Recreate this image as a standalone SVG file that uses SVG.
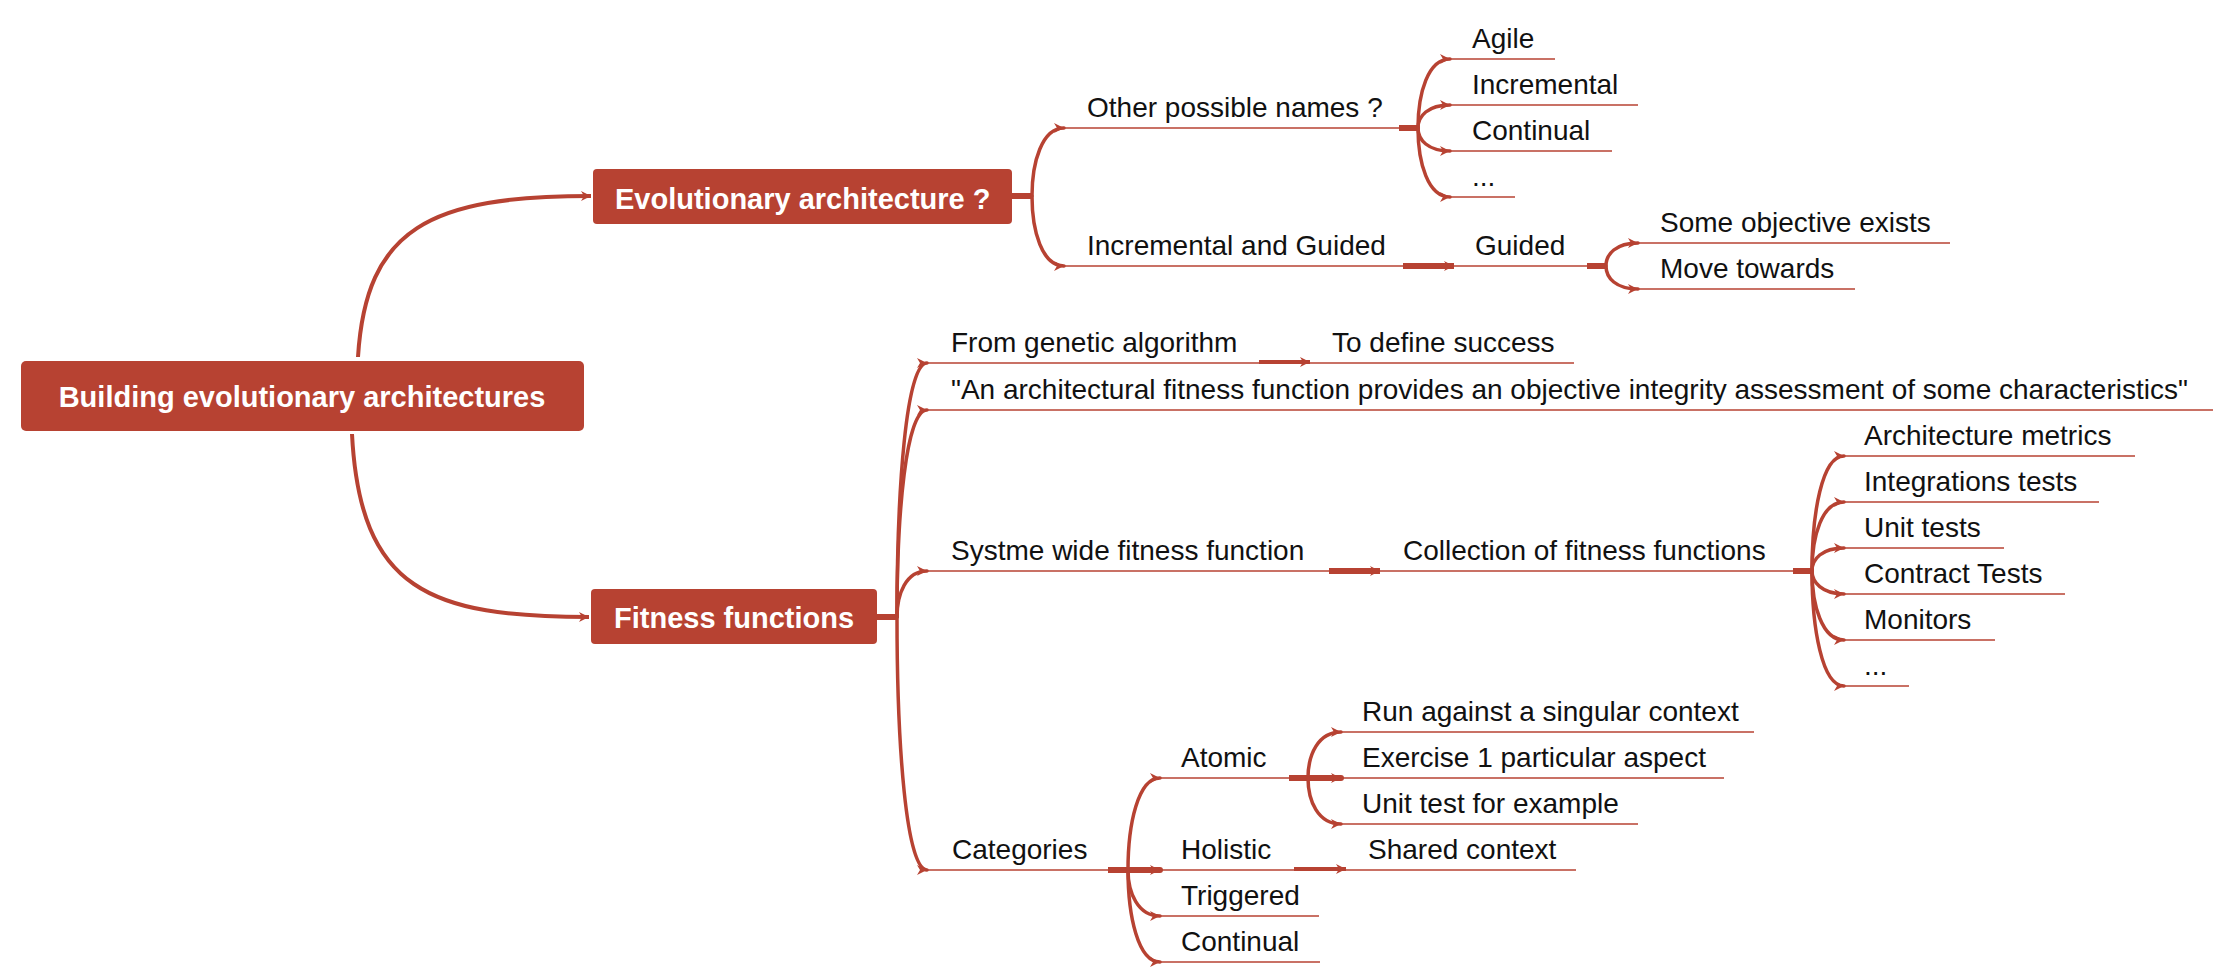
<svg xmlns="http://www.w3.org/2000/svg" width="2229" height="978" viewBox="0 0 2229 978">
<defs>
<style>
.t{font-family:"Liberation Sans",Arial,sans-serif;font-size:28px;fill:#111}
.b{font-family:"Liberation Sans",Arial,sans-serif;font-size:29px;font-weight:bold;fill:#fff}
.box{fill:#B74232}
.ul{stroke:#B74232;stroke-width:1.6;fill:none}
.c{stroke:#B74232;stroke-width:3.5;fill:none;marker-end:url(#ah);stroke-linecap:round}
.cm{stroke:#B74232;stroke-width:4;fill:none;marker-end:url(#ah)}
.s{stroke:#B74232;stroke-width:6;fill:none}
</style>
<marker id="ah" markerUnits="userSpaceOnUse" markerWidth="12" markerHeight="12" refX="10" refY="6" orient="auto" viewBox="0 0 12 12">
<path d="M0,1 L10,6 L0,11 L3,6 z" fill="#B74232"/>
</marker>
</defs>
<rect width="2229" height="978" fill="#fff"/>

<g id="connectors">
<path class="cm" d="M358,357 C366,228 430,196 591,196"/>
<path class="cm" d="M352,434 C360,590 430,617 589,617"/>
<line class="s" x1="1012" y1="196" x2="1032" y2="196"/>
<path class="c" d="M1032,196 C1032,162 1042,128 1064,128"/>
<path class="c" d="M1032,196 C1032,231 1042,266 1064,266"/>
<line class="s" x1="1399" y1="128" x2="1418" y2="128"/>
<path class="c" d="M1418,128 C1418,93 1428,59 1450,59"/>
<path class="c" d="M1418,128 C1418,116 1428,105 1450,105"/>
<path class="c" d="M1418,128 C1418,140 1428,151 1450,151"/>
<path class="c" d="M1418,128 C1418,163 1428,197 1450,197"/>
<path class="cm" style="stroke-width:6" d="M1403,266 L1454,266"/>
<line class="s" x1="1587" y1="266" x2="1606" y2="266"/>
<path class="c" d="M1606,266 C1606,254 1616,243 1638,243"/>
<path class="c" d="M1606,266 C1606,278 1616,289 1638,289"/>
<line class="s" x1="877" y1="617" x2="897" y2="617"/>
<path class="c" d="M897,617 C897,490 906,363 927,363"/>
<path class="c" d="M897,617 C897,513 906,410 927,410"/>
<path class="c" d="M897,617 C897,594 906,571 927,571"/>
<path class="c" d="M897,617 C897,744 906,870 927,870"/>
<path class="cm" d="M1259,362 L1310,362"/>
<path class="cm" style="stroke-width:6" d="M1329,571 L1380,571"/>
<line class="s" x1="1793" y1="571" x2="1812" y2="571"/>
<path class="c" d="M1812,571 C1812,513 1822,456 1844,456"/>
<path class="c" d="M1812,571 C1812,536 1822,502 1844,502"/>
<path class="c" d="M1812,571 C1812,559 1822,548 1844,548"/>
<path class="c" d="M1812,571 C1812,582 1822,594 1844,594"/>
<path class="c" d="M1812,571 C1812,605 1822,640 1844,640"/>
<path class="c" d="M1812,571 C1812,628 1822,686 1844,686"/>
<line class="s" x1="1108" y1="870" x2="1128" y2="870"/>
<path class="c" d="M1128,870 C1128,824 1138,778 1160,778"/>
<path class="c" style="stroke-width:6" d="M1128,870 L1160,870"/>
<path class="c" d="M1128,870 C1128,893 1138,916 1160,916"/>
<path class="c" d="M1128,870 C1128,916 1138,962 1160,962"/>
<line class="s" x1="1289" y1="778" x2="1308" y2="778"/>
<path class="c" d="M1308,778 C1308,755 1318,732 1341,732"/>
<path class="c" style="stroke-width:6" d="M1308,778 L1341,778"/>
<path class="c" d="M1308,778 C1308,801 1318,824 1341,824"/>
<path class="cm" d="M1294,869 L1346,869"/>
</g>

<g id="root"><rect class="box" x="21" y="361" width="563" height="70" rx="5"/><text class="b" x="302" y="407" text-anchor="middle">Building evolutionary architectures</text></g>
<g id="evolutionary"><rect class="box" x="593" y="169" width="419" height="55" rx="4"/><text class="b" x="615" y="209">Evolutionary architecture ?</text></g>
<g id="fitness"><rect class="box" x="591" y="589" width="286" height="55" rx="4"/><text class="b" x="614" y="628">Fitness functions</text></g>

<g id="other-names"><text class="t" x="1087" y="117">Other possible names ?</text><line class="ul" x1="1064" y1="128" x2="1399" y2="128"/></g>
<g id="incremental-guided"><text class="t" x="1087" y="255">Incremental and Guided</text><line class="ul" x1="1064" y1="266" x2="1403" y2="266"/></g>
<g id="agile"><text class="t" x="1472" y="48">Agile</text><line class="ul" x1="1450" y1="59" x2="1555" y2="59"/></g>
<g id="incremental"><text class="t" x="1472" y="94">Incremental</text><line class="ul" x1="1450" y1="105" x2="1638" y2="105"/></g>
<g id="continual-1"><text class="t" x="1472" y="140">Continual</text><line class="ul" x1="1450" y1="151" x2="1612" y2="151"/></g>
<g id="etc-1"><text class="t" x="1472" y="186">...</text><line class="ul" x1="1450" y1="197" x2="1515" y2="197"/></g>
<g id="guided"><text class="t" x="1475" y="255">Guided</text><line class="ul" x1="1454" y1="266" x2="1587" y2="266"/></g>
<g id="objective"><text class="t" x="1660" y="232">Some objective exists</text><line class="ul" x1="1638" y1="243" x2="1950" y2="243"/></g>
<g id="move"><text class="t" x="1660" y="278">Move towards</text><line class="ul" x1="1638" y1="289" x2="1855" y2="289"/></g>

<g id="genetic"><text class="t" x="951" y="352">From genetic algorithm</text><line class="ul" x1="927" y1="363" x2="1259" y2="363"/></g>
<g id="success"><text class="t" x="1332" y="352">To define success</text><line class="ul" x1="1310" y1="363" x2="1574" y2="363"/></g>
<g id="quote"><text class="t" x="951" y="399">"An architectural fitness function provides an objective integrity assessment of some characteristics"</text><line class="ul" x1="927" y1="410" x2="2213" y2="410"/></g>
<g id="system-wide"><text class="t" x="951" y="560">Systme wide fitness function</text><line class="ul" x1="927" y1="571" x2="1329" y2="571"/></g>
<g id="collection"><text class="t" x="1403" y="560">Collection of fitness functions</text><line class="ul" x1="1380" y1="571" x2="1793" y2="571"/></g>
<g id="arch-metrics"><text class="t" x="1864" y="445">Architecture metrics</text><line class="ul" x1="1844" y1="456" x2="2135" y2="456"/></g>
<g id="integration-tests"><text class="t" x="1864" y="491">Integrations tests</text><line class="ul" x1="1844" y1="502" x2="2099" y2="502"/></g>
<g id="unit-tests"><text class="t" x="1864" y="537">Unit tests</text><line class="ul" x1="1844" y1="548" x2="2004" y2="548"/></g>
<g id="contract-tests"><text class="t" x="1864" y="583">Contract Tests</text><line class="ul" x1="1844" y1="594" x2="2065" y2="594"/></g>
<g id="monitors"><text class="t" x="1864" y="629">Monitors</text><line class="ul" x1="1844" y1="640" x2="1995" y2="640"/></g>
<g id="etc-2"><text class="t" x="1864" y="675">...</text><line class="ul" x1="1844" y1="686" x2="1909" y2="686"/></g>

<g id="categories"><text class="t" x="952" y="859">Categories</text><line class="ul" x1="927" y1="870" x2="1108" y2="870"/></g>
<g id="atomic"><text class="t" x="1181" y="767">Atomic</text><line class="ul" x1="1160" y1="778" x2="1289" y2="778"/></g>
<g id="holistic"><text class="t" x="1181" y="859">Holistic</text><line class="ul" x1="1160" y1="870" x2="1294" y2="870"/></g>
<g id="triggered"><text class="t" x="1181" y="905">Triggered</text><line class="ul" x1="1160" y1="916" x2="1319" y2="916"/></g>
<g id="continual-2"><text class="t" x="1181" y="951">Continual</text><line class="ul" x1="1160" y1="962" x2="1320" y2="962"/></g>
<g id="singular"><text class="t" x="1362" y="721">Run against a singular context</text><line class="ul" x1="1341" y1="732" x2="1754" y2="732"/></g>
<g id="exercise"><text class="t" x="1362" y="767">Exercise 1 particular aspect</text><line class="ul" x1="1341" y1="778" x2="1724" y2="778"/></g>
<g id="unit-example"><text class="t" x="1362" y="813">Unit test for example</text><line class="ul" x1="1341" y1="824" x2="1638" y2="824"/></g>
<g id="shared"><text class="t" x="1368" y="859">Shared context</text><line class="ul" x1="1346" y1="870" x2="1576" y2="870"/></g>
</svg>
